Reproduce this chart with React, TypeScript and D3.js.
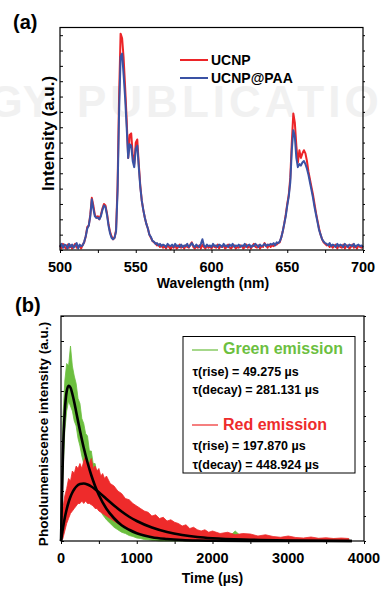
import React, { useEffect, useRef } from 'react';
import * as d3 from 'd3';

// (a) emission spectra, 500-700 nm in 1 nm steps
const wavelengths = d3.range(500, 701);
const ucnp = [
  0.3, 0.1, 0.4, 0.2, 0.1, 0.35, 0.15, 0.3, 0.1, 0.25,
  0.4, 0.15, 0.2, 0.3, 0.1, 0.35, 0.5, 0.9, 1.5, 1.6,
  2.3, 3.4, 2.9, 2.3, 2.1, 2.2, 2.0, 2.3, 2.7, 3.0,
  2.9, 2.4, 1.7, 1.2, 0.9, 0.7, 0.8, 1.3, 4.2, 10.0,
  14.1, 13.8, 12.5, 10.6, 8.5, 6.0, 7.5, 7.6, 6.2, 5.6,
  7.0, 7.2, 5.6, 4.2, 3.2, 2.6, 2.1, 1.7, 1.4, 1.0,
  0.8, 0.6, 0.5, 0.45, 0.3, 0.35, 0.2, 0.3, 0.15, 0.25,
  0.1, 0.3, 0.2, 0.05, 0.25, 0.15, 0.3, 0.1, 0.2, 0.35,
  0.15, 0.25, 0.1, 0.3, 0.2, 0.15, 0.35, 0.5, 0.2, 0.1,
  0.25, 0.15, 0.3, 0.1, 0.35, 0.2, 0.1, 0.3, 0.15, 0.25,
  0.1, 0.3, 0.2, 0.15, 0.35, 0.1, 0.25, 0.2, 0.3, 0.1,
  0.2, 0.35, 0.15, 0.1, 0.25, 0.3, 0.1, 0.2, 0.15, 0.3,
  0.25, 0.1, 0.2, 0.35, 0.15, 0.3, 0.1, 0.25, 0.4, 0.2,
  0.15, 0.3, 0.1, 0.25, 0.2, 0.45, 0.3, 0.15, 0.35, 0.2,
  0.3, 0.25, 0.4, 0.35, 0.45, 0.5, 0.8, 1.2, 1.7, 2.3,
  3.0, 3.6, 4.7, 7.0, 8.9, 8.3, 6.8, 5.7, 6.5, 6.0,
  6.3, 6.5, 6.3, 5.8, 5.1, 4.6, 4.1, 3.6, 3.0, 2.4,
  1.9, 1.4, 1.0, 0.7, 0.5, 0.4, 0.3, 0.35, 0.2, 0.3,
  0.15, 0.25, 0.35, 0.1, 0.3, 0.2, 0.15, 0.35, 0.1, 0.25,
  0.3, 0.1, 0.2, 0.35, 0.15, 0.25, 0.1, 0.3, 0.2, 0.15,
  0.25,
];
const ucnpPaa = [
  0.2, 0.4, 0.15, 0.35, 0.3, 0.1, 0.4, 0.2, 0.35, 0.15,
  0.3, 0.45, 0.1, 0.35, 0.25, 0.3, 0.55, 0.9, 1.4, 1.6,
  2.2, 3.3, 2.7, 2.2, 2.1, 2.1, 2.0, 2.2, 2.6, 2.9,
  2.8, 2.3, 1.6, 1.1, 0.8, 0.7, 0.8, 1.2, 3.8, 9.0,
  12.6, 12.8, 11.4, 9.9, 8.0, 6.0, 6.9, 6.8, 5.8, 5.4,
  6.6, 6.8, 5.4, 4.1, 3.2, 2.6, 2.1, 1.7, 1.4, 1.0,
  0.85, 0.6, 0.55, 0.4, 0.45, 0.3, 0.4, 0.25, 0.35, 0.3,
  0.2, 0.4, 0.3, 0.25, 0.35, 0.2, 0.4, 0.25, 0.3, 0.2,
  0.35, 0.2, 0.3, 0.25, 0.4, 0.2, 0.3, 0.45, 0.3, 0.2,
  0.35, 0.25, 0.2, 0.4, 0.7, 0.3, 0.2, 0.35, 0.25, 0.3,
  0.2, 0.4, 0.25, 0.3, 0.2, 0.35, 0.3, 0.2, 0.4, 0.25,
  0.3, 0.2, 0.35, 0.25, 0.4, 0.2, 0.3, 0.25, 0.35, 0.2,
  0.3, 0.25, 0.4, 0.2, 0.3, 0.35, 0.2, 0.3, 0.25, 0.4,
  0.3, 0.2, 0.35, 0.25, 0.3, 0.4, 0.25, 0.35, 0.3, 0.4,
  0.35, 0.45, 0.3, 0.5, 0.45, 0.55, 0.8, 1.2, 1.7, 2.2,
  2.9, 3.5, 4.4, 6.5, 7.8, 7.4, 6.0, 5.4, 5.6, 5.5,
  5.7, 5.8, 5.6, 5.3, 4.9, 4.4, 3.9, 3.4, 2.8, 2.3,
  1.8, 1.3, 1.0, 0.7, 0.55, 0.45, 0.4, 0.3, 0.45, 0.25,
  0.35, 0.3, 0.2, 0.4, 0.25, 0.35, 0.3, 0.2, 0.4, 0.3,
  0.2, 0.35, 0.3, 0.25, 0.4, 0.2, 0.3, 0.35, 0.25, 0.3,
  0.2,
];
const wavelengthTicks = [500, 550, 600, 650, 700];

// (b) time-resolved luminescence, raw signal envelopes
const decayTime = [
  0, 25, 50, 75, 100, 125, 150, 175, 200, 225,
  250, 275, 300, 325, 350, 375, 400, 425, 450, 475,
  500, 525, 550, 575, 600, 650, 700, 750, 800, 850,
  900, 950, 1000, 1050, 1100, 1150, 1200, 1250, 1300, 1350,
  1400, 1450, 1500, 1550, 1600, 1650, 1700, 1750, 1800, 1850,
  1900, 1950, 2000, 2100, 2200, 2300, 2400, 2500, 2600, 2700,
  2800, 2900, 3000, 3100, 3200, 3300, 3400, 3500, 3600, 3700,
  3800,
];
const greenUpper = [
  0, 4.9, 6.4, 7.1, 7.0, 7.8, 7.0, 6.6, 6.3, 5.7,
  5.5, 4.9, 4.7, 4.3, 4.2, 3.6, 3.6, 3.1, 3.1, 2.7,
  2.7, 2.3, 2.4, 2.0, 2.1, 1.75, 1.55, 1.35, 1.2, 1.0,
  0.95, 0.8, 0.75, 0.62, 0.58, 0.5, 0.48, 0.4, 0.4, 0.33,
  0.32, 0.28, 0.28, 0.22, 0.24, 0.18, 0.22, 0.16, 0.19, 0.15,
  0.17, 0.14, 0.16, 0.15, 0.12, 0.4, 0.13, 0.1, 0.12, 0.09,
  0.11, 0.1, 0.08, 0.1, 0.09, 0.08, 0.1, 0.07, 0.09, 0.08,
  0.07,
];
const greenLower = [
  0, 2.6, 4.4, 5.2, 5.6, 5.4, 5.2, 4.8, 4.6, 4.1,
  3.8, 3.4, 3.1, 2.8, 2.6, 2.3, 2.1, 1.9, 1.7, 1.5,
  1.3, 1.2, 1.05, 0.95, 0.85, 0.7, 0.55, 0.45, 0.35, 0.3,
  0.22, 0.18, 0.12, 0.1, 0.06, 0.05, 0.03, 0.02, 0, 0,
  0, 0, 0, 0, 0, 0, 0, 0, 0, 0,
  0, 0, 0, 0, 0, 0, 0, 0, 0, 0,
  0, 0, 0, 0, 0, 0, 0, 0, 0, 0,
  0,
];
const redUpper = [
  0, 1.3, 1.8, 2.1, 2.5, 2.4, 2.8, 2.7, 3.0, 2.9,
  3.1, 2.9, 3.2, 3.4, 3.0, 3.1, 3.3, 2.9, 3.0, 2.8,
  2.9, 2.6, 2.7, 2.5, 2.6, 2.3, 2.2, 2.0, 1.9, 1.7,
  1.65, 1.5, 1.4, 1.3, 1.2, 1.15, 1.0, 1.05, 0.9, 0.95,
  0.8, 0.85, 0.75, 0.7, 0.6, 0.65, 0.5, 0.55, 0.45, 0.4,
  0.45, 0.35, 0.4, 0.3, 0.35, 0.25, 0.3, 0.28, 0.2, 0.25,
  0.18, 0.15, 0.2, 0.14, 0.12, 0.16, 0.11, 0.13, 0.1, 0.12,
  0.1,
];
const redLower = [
  0, 0.1, 0.4, 0.7, 0.9, 1.1, 1.2, 1.3, 1.4, 1.5,
  1.5, 1.6, 1.5, 1.6, 1.5, 1.5, 1.45, 1.4, 1.3, 1.3,
  1.2, 1.15, 1.1, 1.05, 1.0, 0.9, 0.8, 0.7, 0.6, 0.55,
  0.45, 0.4, 0.35, 0.3, 0.25, 0.22, 0.2, 0.17, 0.15, 0.12,
  0.1, 0.08, 0.07, 0.06, 0.05, 0.04, 0.03, 0.03, 0.02, 0.02,
  0.01, 0, 0, 0, 0, 0, 0, 0, 0, 0,
  0, 0, 0, 0, 0, 0, 0, 0, 0, 0,
  0,
];

// (b) fitted rise/decay curves
const fitTime = [0, 25, 50, 75, 100, 125, 150, 175, 200, 250, 300, 350, 400, 450, 500, 600, 700, 800, 900, 1000, 1200, 1400, 1600, 1800, 2000, 2500, 3000, 3840];
const greenFit = [0, 3.41, 5.18, 5.98, 6.21, 6.14, 5.88, 5.55, 5.17, 4.42, 3.73, 3.14, 2.63, 2.2, 1.84, 1.29, 0.91, 0.63, 0.45, 0.31, 0.15, 0.08, 0.04, 0.02, 0.01, 0, 0, 0];
const redFit = [0, 0.51, 0.93, 1.27, 1.55, 1.77, 1.94, 2.07, 2.17, 2.28, 2.3, 2.26, 2.18, 2.07, 1.95, 1.68, 1.42, 1.18, 0.97, 0.8, 0.54, 0.36, 0.24, 0.16, 0.11, 0.05, 0.02, 0];
const timeTicks = [0, 1000, 2000, 3000, 4000];

const FONT = '"Liberation Sans", Arial, Helvetica, sans-serif';
const RED = '#ec2428';
const BLUE = '#3a52a4';
const GREEN = '#6cbf3f';
const EM_RED = '#ee2b2b';

const App = () => {
  const ref = useRef<SVGSVGElement>(null);

  useEffect(() => {
    const svg = d3.select(ref.current);
    svg.selectAll('*').remove();

    // faint publisher watermark behind everything
    const wm = svg.append('g').attr('fill', '#f1f1f1').attr('font-family', FONT).attr('font-weight', 'bold');
    wm.append('text').attr('x', 52).attr('y', 117).attr('text-anchor', 'end').attr('font-size', 44).text('GY');
    wm.append('text').attr('x', 77).attr('y', 117).attr('font-size', 44).attr('letter-spacing', 4).text('PUBLICATIONS');

    const txt = (g, x, y, s, size, opts: any = {}) =>
      g.append('text')
        .attr('x', x).attr('y', y)
        .attr('font-family', FONT).attr('font-weight', 'bold')
        .attr('font-size', size)
        .attr('fill', opts.fill || '#000')
        .attr('text-anchor', opts.anchor || 'start')
        .attr('transform', opts.transform || null)
        .text(s);

    // ---------- panel (a) ----------
    const a = { left: 60, right: 363, top: 27.5, bottom: 250 };
    const xA = d3.scaleLinear().domain([500, 700]).range([a.left, a.right]);
    const yA = d3.scaleLinear().domain([0, 14.5]).range([a.bottom, a.top]);
    const ga = svg.append('g');

    ga.append('g').attr('transform', `translate(0,${a.bottom})`)
      .call(d3.axisBottom(xA).tickValues(d3.range(500, 701, 25)).tickSize(3).tickFormat(() => ''))
      .call(s => s.select('.domain').remove());
    ga.append('g').attr('transform', `translate(${a.left},0)`)
      .call(d3.axisLeft(yA).tickValues(d3.range(0, 15)).tickSize(-3).tickFormat(() => ''))
      .call(s => s.select('.domain').remove());
    ga.append('g').attr('transform', `translate(${a.right},0)`)
      .call(d3.axisRight(yA).tickValues(d3.range(0, 15)).tickSize(2).tickFormat(() => ''))
      .call(s => s.select('.domain').remove());

    const lineA = (vals: number[]) =>
      d3.line<number>().x((d, i) => xA(wavelengths[i])).y(d => yA(d))(vals);
    ga.append('path').attr('d', lineA(ucnp)).attr('fill', 'none')
      .attr('stroke', RED).attr('stroke-width', 2).attr('stroke-linejoin', 'round');
    ga.append('path').attr('d', lineA(ucnpPaa)).attr('fill', 'none')
      .attr('stroke', BLUE).attr('stroke-width', 2).attr('stroke-linejoin', 'round');

    ga.append('rect').attr('x', a.left).attr('y', a.top)
      .attr('width', a.right - a.left).attr('height', a.bottom - a.top)
      .attr('fill', 'none').attr('stroke', '#000').attr('stroke-width', 1.2);

    wavelengthTicks.forEach(v => txt(ga, xA(v), 272, String(v), 14.5, { anchor: 'middle' }));
    txt(ga, 213, 288, 'Wavelength (nm)', 14, { anchor: 'middle' });
    txt(ga, 0, 0, 'Intensity (a.u.)', 17, { anchor: 'middle', transform: 'translate(54,133.5) rotate(-90)' });
    txt(ga, 13, 29, '(a)', 20);

    // legend (a)
    ga.append('line').attr('x1', 180).attr('x2', 208).attr('y1', 60).attr('y2', 60)
      .attr('stroke', RED).attr('stroke-width', 2);
    txt(ga, 211, 65, 'UCNP', 14);
    ga.append('line').attr('x1', 180).attr('x2', 208).attr('y1', 78).attr('y2', 78)
      .attr('stroke', BLUE).attr('stroke-width', 2);
    txt(ga, 211, 83, 'UCNP@PAA', 14);

    // ---------- panel (b) ----------
    const b = { left: 61, right: 364, top: 316, bottom: 541 };
    const xB = d3.scaleLinear().domain([0, 4000]).range([b.left, b.right]);
    const yB = d3.scaleLinear().domain([0, 9]).range([b.bottom, b.top]);
    const gb = svg.append('g');

    gb.append('g').attr('transform', `translate(0,${b.bottom})`)
      .call(d3.axisBottom(xB).tickValues(d3.range(0, 4001, 500)).tickSize(3).tickFormat(() => ''))
      .call(s => s.select('.domain').remove());
    gb.append('g').attr('transform', `translate(${b.left},0)`)
      .call(d3.axisLeft(yB).tickValues(d3.range(0, 10)).tickSize(-3).tickFormat(() => ''))
      .call(s => s.select('.domain').remove());
    gb.append('g').attr('transform', `translate(${b.right},0)`)
      .call(d3.axisRight(yB).tickValues(d3.range(0, 10)).tickSize(2).tickFormat(() => ''))
      .call(s => s.select('.domain').remove());

    const band = (lo: number[], hi: number[]) =>
      d3.area<number>()
        .x((d, i) => xB(decayTime[i]))
        .y0((d, i) => yB(lo[i]))
        .y1((d, i) => yB(hi[i]))(hi);
    gb.append('path').attr('d', band(greenLower, greenUpper)).attr('fill', GREEN)
      .attr('stroke', GREEN).attr('stroke-width', 0.8);
    gb.append('path').attr('d', band(redLower, redUpper)).attr('fill', EM_RED)
      .attr('stroke', EM_RED).attr('stroke-width', 0.8);

    const fitLine = (vals: number[]) =>
      d3.line<number>().curve(d3.curveMonotoneX)
        .x((d, i) => xB(fitTime[i])).y(d => yB(d))(vals);
    gb.append('path').attr('d', fitLine(redFit)).attr('fill', 'none')
      .attr('stroke', '#000').attr('stroke-width', 2.6);
    gb.append('path').attr('d', fitLine(greenFit)).attr('fill', 'none')
      .attr('stroke', '#000').attr('stroke-width', 2.6);

    gb.append('rect').attr('x', b.left).attr('y', b.top)
      .attr('width', b.right - b.left).attr('height', b.bottom - b.top)
      .attr('fill', 'none').attr('stroke', '#000').attr('stroke-width', 1.2);

    timeTicks.forEach(v => txt(gb, xB(v), 563, String(v), 14.5, { anchor: 'middle' }));
    txt(gb, 212.5, 583, 'Time (µs)', 14, { anchor: 'middle' });
    txt(gb, 0, 0, 'Photolumeniscence intensity (a.u.)', 13.6,
      { anchor: 'middle', transform: 'translate(48,434) rotate(-90)' });
    txt(gb, 15, 312, '(b)', 20);

    // legend box (b)
    gb.append('rect').attr('x', 183).attr('y', 336.5).attr('width', 172).attr('height', 136.5)
      .attr('fill', '#fff').attr('stroke', '#000').attr('stroke-width', 1);
    gb.append('line').attr('x1', 192).attr('x2', 218).attr('y1', 350).attr('y2', 350)
      .attr('stroke', GREEN).attr('stroke-width', 1.2);
    txt(gb, 223, 354, 'Green emission', 16, { fill: GREEN });
    txt(gb, 192.5, 376, 'τ(rise) = 49.275 µs', 12.5);
    txt(gb, 192.5, 394, 'τ(decay) = 281.131 µs', 12.5);
    gb.append('line').attr('x1', 192).attr('x2', 218).attr('y1', 425).attr('y2', 425)
      .attr('stroke', EM_RED).attr('stroke-width', 1.2);
    txt(gb, 223, 430, 'Red emission', 16, { fill: EM_RED });
    txt(gb, 192.5, 450, 'τ(rise) = 197.870 µs', 12.5);
    txt(gb, 192.5, 469, 'τ(decay) = 448.924 µs', 12.5);
  }, []);

  return (
    <svg
      ref={ref}
      width={382}
      height={590}
      style={{ position: 'absolute', left: 0, top: 0, background: '#fff' }}
    />
  );
};

export default App;
